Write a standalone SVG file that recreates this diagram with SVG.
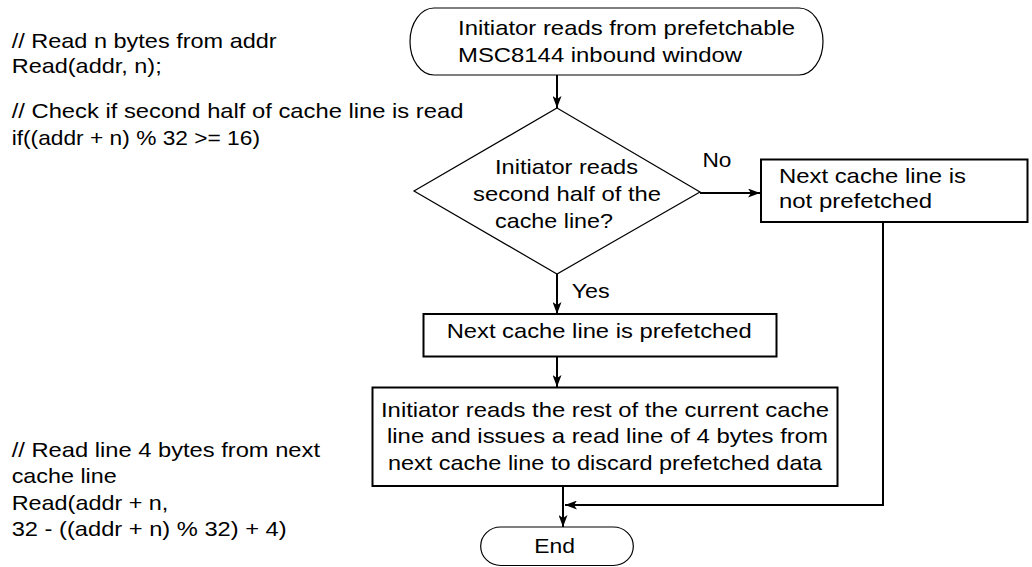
<svg xmlns="http://www.w3.org/2000/svg" width="1032" height="567" viewBox="0 0 1032 567">
<style>
text{font-family:"Liberation Sans",Arial,Helvetica,sans-serif;font-size:21px;fill:#000}
.term{fill:#fff;stroke:#000;stroke-width:1.2}
.box{fill:#fff;stroke:#000;stroke-width:2}
.dia{fill:#fff;stroke:#000;stroke-width:1.2}
.conn{fill:none;stroke:#000;stroke-width:2;marker-end:url(#arr)}
</style>
<defs>
<marker id="arr" viewBox="0 0 12 9" refX="12" refY="4.5" markerWidth="12" markerHeight="9" markerUnits="userSpaceOnUse" orient="auto">
<path d="M0,0 L12,4.5 L0,9 L3,4.5 z" fill="#000"/>
</marker>
</defs>
<rect width="1032" height="567" fill="#fff"/>
<g id="code">
<text x="11.7" y="48.3" textLength="265" lengthAdjust="spacingAndGlyphs">// Read n bytes from addr</text>
<text x="11.7" y="73.3" textLength="150" lengthAdjust="spacingAndGlyphs">Read(addr, n);</text>
<text x="11.7" y="118.3" textLength="451.7" lengthAdjust="spacingAndGlyphs">// Check if second half of cache line is read</text>
<text x="11.7" y="145" textLength="248.3" lengthAdjust="spacingAndGlyphs">if((addr + n) % 32 &gt;= 16)</text>
<text x="11.7" y="457.3" textLength="308.3" lengthAdjust="spacingAndGlyphs">// Read line 4 bytes from next</text>
<text x="11.7" y="483.3" textLength="105" lengthAdjust="spacingAndGlyphs">cache line</text>
<text x="11.7" y="510" textLength="156.7" lengthAdjust="spacingAndGlyphs">Read(addr + n,</text>
<text x="11.7" y="536" textLength="275" lengthAdjust="spacingAndGlyphs">32 - ((addr + n) % 32) + 4)</text>
</g>
<g id="connectors">
<path class="conn" d="M557,75 L557,108"/>
<path class="conn" d="M700,193 L760,193"/>
<path class="conn" d="M557,274 L557,314"/>
<path class="conn" d="M557,357 L557,387"/>
<path class="conn" d="M563,486 L563,527"/>
<path class="conn" d="M883,222 L883,505 L565,505"/>
<text x="702.5" y="166.7" textLength="29" lengthAdjust="spacingAndGlyphs">No</text>
<text x="571.7" y="298" textLength="38" lengthAdjust="spacingAndGlyphs">Yes</text>
</g>
<g id="start">
<rect class="term" x="410" y="8" width="413" height="67" rx="24" ry="33.5"/>
<text x="458" y="35" textLength="337" lengthAdjust="spacingAndGlyphs">Initiator reads from prefetchable</text>
<text x="458" y="62" textLength="284" lengthAdjust="spacingAndGlyphs">MSC8144 inbound window</text>
</g>
<g id="decision">
<polygon class="dia" points="557,108 700,192 557,274 414,191"/>
<text x="495" y="174" textLength="143" lengthAdjust="spacingAndGlyphs">Initiator reads</text>
<text x="473" y="201" textLength="188" lengthAdjust="spacingAndGlyphs">second half of the</text>
<text x="495" y="228" textLength="118" lengthAdjust="spacingAndGlyphs">cache line?</text>
</g>
<g id="notPrefetched">
<rect class="box" x="761" y="159.5" width="266.5" height="62.5"/>
<text x="779" y="183" textLength="187" lengthAdjust="spacingAndGlyphs">Next cache line is</text>
<text x="779" y="208" textLength="153" lengthAdjust="spacingAndGlyphs">not prefetched</text>
</g>
<g id="prefetched">
<rect class="box" x="423.5" y="314" width="353" height="42.5"/>
<text x="446.7" y="338" textLength="305" lengthAdjust="spacingAndGlyphs">Next cache line is prefetched</text>
</g>
<g id="readRest">
<rect class="box" x="372.5" y="387.5" width="465" height="98.5"/>
<text x="381" y="416.7" textLength="448" lengthAdjust="spacingAndGlyphs">Initiator reads the rest of the current cache</text>
<text x="387" y="443.3" textLength="441" lengthAdjust="spacingAndGlyphs">line and issues a read line of 4 bytes from</text>
<text x="388" y="470" textLength="434" lengthAdjust="spacingAndGlyphs">next cache line to discard prefetched data</text>
</g>
<g id="end">
<rect class="term" x="480.7" y="527" width="152.6" height="38.5" rx="20" ry="19"/>
<text x="534.3" y="553.3" textLength="40.7" lengthAdjust="spacingAndGlyphs">End</text>
</g>
</svg>
